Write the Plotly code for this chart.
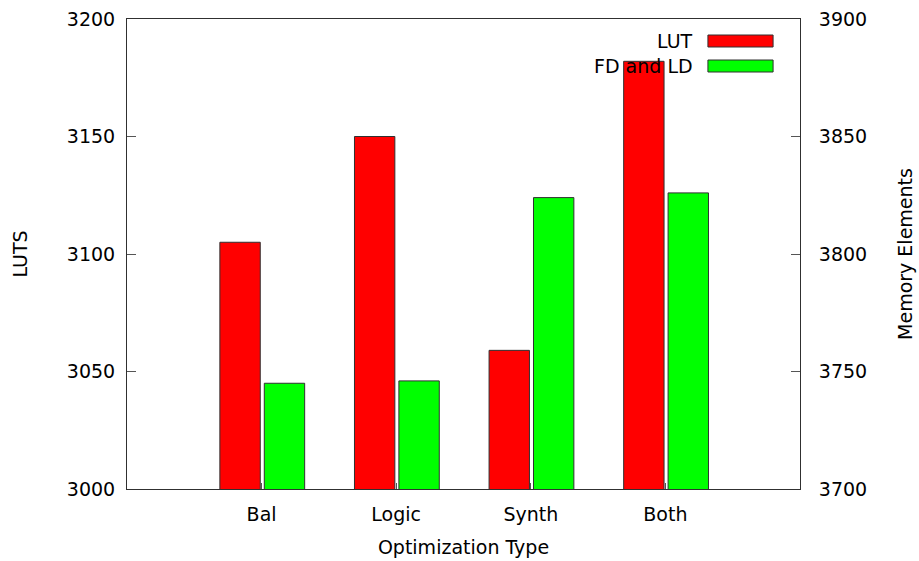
import plotly.graph_objects as go

categories = ["Bal", "Logic", "Synth", "Both"]
lut_values = [3105, 3150, 3059, 3182]
mem_values = [3745, 3746, 3824, 3826]
series_names = ["LUT", "FD and LD"]
y_ticks = [3000, 3050, 3100, 3150, 3200]
y2_ticks = [3700, 3750, 3800, 3850, 3900]

xpos = list(range(len(categories)))
FONT = "DejaVu Sans"
FS = 19

W, HT = 919, 561
# plot area: x 127..800, y 19..489
ML, MT = 127, 19
MR, MB = W - 800, HT - 489
H = HT - MT - MB

fig = go.Figure()

fig.add_trace(go.Bar(
    x=xpos, y=lut_values, name=series_names[0],
    width=0.30, offset=-0.31,
    marker=dict(color="#ff0000", line=dict(color="#303030", width=1)),
    showlegend=False, xaxis="x", yaxis="y"))

fig.add_trace(go.Bar(
    x=xpos, y=mem_values, name=series_names[1],
    width=0.30, offset=0.02,
    marker=dict(color="#00ff00", line=dict(color="#303030", width=1)),
    showlegend=False, xaxis="x", yaxis="y2"))

# manual gnuplot-style key: text left of swatch (pixel rows in the page)
key_rows = [("#ff0000", 35, 47), ("#00ff00", 60, 72)]
for name, (col, t, b) in zip(series_names, key_rows):
    fig.add_shape(type="rect", xref="x", yref="paper",
                  x0=3.316, x1=3.80,
                  y0=1 - (b - MT) / H, y1=1 - (t - MT) / H,
                  fillcolor=col, line=dict(color="#303030", width=1), layer="above")
    fig.add_annotation(xref="x", yref="paper", x=3.22, y=1 - ((t + b) / 2 - MT) / H,
                       text=name, showarrow=False, xanchor="right", yanchor="middle",
                       font=dict(family=FONT, size=FS, color="black"))

axis_common = dict(showgrid=False, zeroline=False, ticks="inside",
                   tickcolor="#555555", tickfont=dict(family=FONT, size=FS, color="black"),
                   title_font=dict(family=FONT, size=FS, color="black"),
                   ticklabeloverflow="allow", automargin=False)

fig.update_layout(
    width=W, height=HT,
    margin=dict(l=ML, r=MR, t=MT, b=MB, autoexpand=False),
    paper_bgcolor="white", plot_bgcolor="white",
    barmode="overlay",
    xaxis=dict(range=[-1, 4], tickvals=xpos, ticktext=categories,
               ticklen=6, showline=True, linecolor="#303030", linewidth=1, mirror=True,
               title=dict(text="Optimization Type", standoff=16),
               ticklabelstandoff=8, **axis_common),
    yaxis=dict(range=[3000, 3200], tickvals=y_ticks, ticklen=9,
               showline=True, linecolor="#303030", linewidth=1,
               title=dict(text="LUTS", standoff=34), ticklabelstandoff=7,
               **axis_common),
    yaxis2=dict(range=[3700, 3900], tickvals=y2_ticks, ticklen=9,
                overlaying="y", side="right", anchor="x",
                showline=True, linecolor="#303030", linewidth=1,
                title=dict(text="Memory Elements", standoff=32), ticklabelstandoff=14,
                **axis_common),
)

fig.write_html("out.html", config={"displayModeBar": False},
               post_script="document.body.style.margin='0';document.body.style.overflow='hidden';")
